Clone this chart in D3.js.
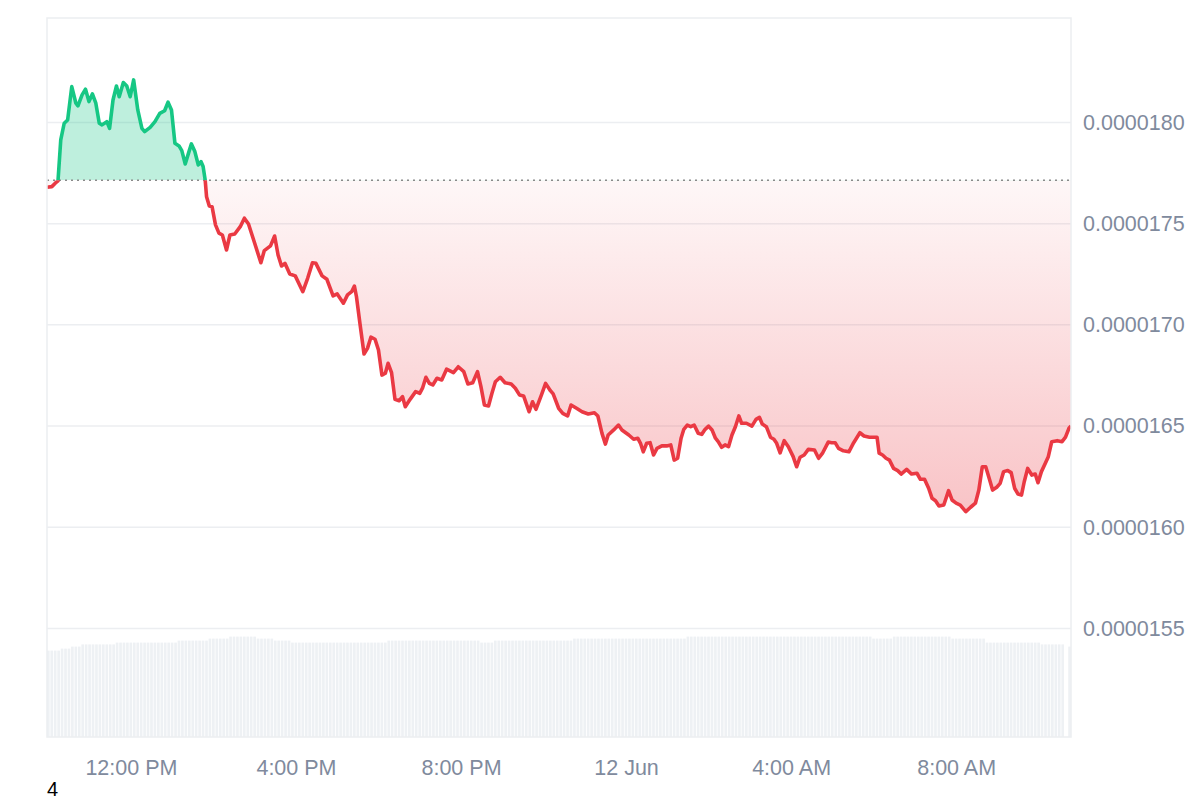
<!DOCTYPE html>
<html>
<head>
<meta charset="utf-8">
<script src="https://d3js.org/d3.v7.min.js"></script>
<style>
  body { margin: 0; background: #fff; }
  svg { display: block; }
  text { font-family: "Liberation Sans", Arial, sans-serif; }
</style>
</head>
<body>
<div id="chart"></div>
<script>

// minutes after 00:00 on 11 Jun
var times = [598,605,610,614,618,623,628,634,640,643,649,654,659,664,669,674,678,685,689,694,699,703,709,714,719,724,730,736,740,748,755,762,769,774,779,784,790,794,799,804,808,813,818,822,825,828,830,834,838,843,848,853,859,864,871,879,885,891,900,909,914,923,929,934,939,944,951,959,970,977,984,989,998,1005,1014,1020,1029,1035,1041,1045,1048,1053,1059,1064,1069,1075,1080,1085,1090,1094,1099,1104,1110,1115,1119,1126,1134,1140,1144,1149,1154,1159,1165,1172,1179,1189,1196,1204,1210,1217,1224,1229,1234,1240,1245,1250,1257,1264,1273,1279,1285,1291,1299,1304,1309,1317,1323,1330,1334,1342,1348,1355,1360,1368,1376,1385,1394,1399,1405,1410,1414,1422,1429,1434,1444,1451,1457,1461,1465,1470,1475,1480,1485,1492,1499,1505,1510,1515,1520,1524,1529,1534,1539,1545,1550,1555,1560,1565,1570,1574,1579,1584,1589,1594,1599,1604,1608,1615,1623,1629,1634,1638,1644,1650,1655,1659,1664,1670,1676,1683,1688,1693,1699,1705,1714,1720,1726,1734,1739,1744,1749,1756,1764,1771,1780,1786,1794,1805,1808,1813,1818,1823,1829,1835,1840,1848,1855,1863,1868,1874,1880,1885,1890,1895,1902,1909,1914,1920,1926,1934,1941,1948,1953,1958,1963,1968,1973,1979,1984,1989,1995,2000,2005,2010,2015,2019,2024,2030,2035,2039,2044,2050,2054,2059,2067,2074,2079,2084,2087];

// price in units of 1e-7
var prices = [176.80,176.83,177.00,177.11,179.14,179.96,180.12,181.77,180.95,180.82,181.36,181.64,181.03,181.41,180.95,179.96,179.88,180.04,179.71,181.11,181.80,181.27,181.97,181.80,181.27,182.10,180.62,179.71,179.55,179.76,180.04,180.45,180.58,181.00,180.62,178.97,178.84,178.61,177.95,178.51,178.94,178.56,177.90,178.06,177.82,177.16,176.33,175.87,175.84,174.94,174.53,174.44,173.70,174.44,174.49,174.85,175.27,174.98,174.03,173.07,173.67,173.90,174.39,173.45,172.91,173.04,172.51,172.42,171.64,172.30,173.07,173.04,172.42,172.25,171.43,171.53,171.07,171.48,171.64,171.92,171.39,170.08,168.56,168.84,169.39,169.29,168.76,167.52,167.61,168.10,167.64,166.32,166.25,166.45,165.96,166.32,166.70,166.62,166.87,167.41,167.11,167.03,167.36,167.28,167.81,167.64,167.93,167.69,167.08,167.14,167.69,166.95,166.04,165.99,166.62,167.19,167.41,167.14,167.08,166.87,166.54,166.49,165.71,166.20,165.83,166.54,167.11,166.75,166.59,165.88,165.63,165.50,166.04,165.88,165.71,165.60,165.66,165.50,164.64,164.11,164.56,164.81,165.05,164.81,164.56,164.35,164.40,164.15,163.73,164.15,164.18,163.57,163.90,164.02,164.02,164.07,163.32,163.41,164.40,164.84,165.05,164.97,165.05,164.64,164.59,164.84,165.00,164.81,164.40,164.23,163.95,164.07,163.98,164.56,164.97,165.50,165.14,165.14,165.00,165.33,165.43,165.10,164.97,164.45,164.35,164.15,163.68,164.28,163.98,163.49,162.99,163.46,163.57,163.85,163.82,163.41,163.68,164.21,164.18,164.18,163.90,163.78,163.73,164.18,164.67,164.51,164.45,164.45,163.66,163.57,163.41,163.32,162.91,162.80,162.63,162.86,162.63,162.67,162.37,162.37,161.93,161.43,161.31,161.05,161.10,161.81,161.35,161.19,161.10,160.77,160.99,161.19,161.84,162.99,162.99,162.42,161.84,161.98,162.17,162.75,162.80,162.70,161.93,161.64,161.59,162.25,162.91,162.58,162.63,162.20,162.75,163.19,163.49,164.23,164.28,164.23,164.45,164.89,165.00];

var priceUnit = 1e-7;
var refPrice = 177.14;   // opening reference (dotted line)
var priceTicks = [155, 160, 165, 170, 175, 180];

// 5 minute volume bars, run-length: [volume, number of bars]
var volumeRuns = [[432,4],[442,3],[452,3],[463,10],[472,18],[482,9],[492,6],[502,8],[492,5],[482,5],[472,28],[482,27],[472,4],[482,23],[492,33],[502,54],[492,6],[502,17],[492,10],[472,16],[463,7],[0,1],[452,1]];
var barMinutes = 5;

var cfg = {
  width: 1200,
  height: 800,
  left: 47,
  right: 1071,
  top: 18,
  bottom: 737
};

function toDate(m) { return new Date(2024, 5, 11, 0, m); }

var data = times.map(function(t, i) { return { date: toDate(t), value: prices[i] * priceUnit }; });

var volumes = [];
volumeRuns.forEach(function(r) {
  for (var k = 0; k < r[1]; k++) volumes.push(r[0]);
});

var svg = d3.select("#chart").append("svg")
  .attr("width", cfg.width)
  .attr("height", cfg.height);

var x = d3.scaleTime()
  .domain([toDate(times[0]), toDate(times[times.length - 1])])
  .range([cfg.left, cfg.right]);

var y = d3.scaleLinear()
  .domain([149.64 * priceUnit, 185.16 * priceUnit])
  .range([cfg.bottom, cfg.top]);

var yVol = d3.scaleLinear()
  .domain([0, 500])
  .range([cfg.bottom, cfg.bottom - 100]);

var baseY = y(refPrice * priceUnit);

// gridlines
svg.append("g").selectAll("line")
  .data(priceTicks)
  .enter().append("line")
  .attr("x1", cfg.left)
  .attr("x2", cfg.right)
  .attr("y1", function(d) { return y(d * priceUnit); })
  .attr("y2", function(d) { return y(d * priceUnit); })
  .style("stroke", "#eceef1")
  .style("stroke-width", 1.5);

// volume bars
svg.append("g").selectAll("rect")
  .data(volumes)
  .enter().append("rect")
  .attr("x", function(d, i) { return x(toDate(times[0] + i * barMinutes)); })
  .attr("width", function(d, i) {
    var w = x(toDate(times[0] + (i + 1) * barMinutes)) - x(toDate(times[0] + i * barMinutes)) - 0.8;
    return Math.max(0, Math.min(w, cfg.right - x(toDate(times[0] + i * barMinutes))));
  })
  .attr("y", function(d) { return yVol(d); })
  .attr("height", function(d) { return cfg.bottom - yVol(d); })
  .style("fill", "#eef1f4");

var defs = svg.append("defs");

defs.append("clipPath").attr("id", "clipUp")
  .append("rect")
  .attr("x", cfg.left).attr("y", cfg.top)
  .attr("width", cfg.right - cfg.left).attr("height", baseY - cfg.top);

defs.append("clipPath").attr("id", "clipDown")
  .append("rect")
  .attr("x", cfg.left).attr("y", baseY)
  .attr("width", cfg.right - cfg.left).attr("height", cfg.bottom - baseY);

var redGrad = defs.append("linearGradient")
  .attr("id", "redGrad")
  .attr("gradientUnits", "userSpaceOnUse")
  .attr("x1", 0).attr("x2", 0)
  .attr("y1", baseY).attr("y2", y(d3.min(prices) * priceUnit));
redGrad.append("stop").attr("offset", 0).attr("stop-color", "#ea3943").attr("stop-opacity", 0.04);
redGrad.append("stop").attr("offset", 1).attr("stop-color", "#ea3943").attr("stop-opacity", 0.3);

var area = d3.area()
  .x(function(d) { return x(d.date); })
  .y0(baseY)
  .y1(function(d) { return y(d.value); });

var line = d3.line()
  .x(function(d) { return x(d.date); })
  .y(function(d) { return y(d.value); });

svg.append("path")
  .datum(data)
  .attr("clip-path", "url(#clipUp)")
  .attr("d", area)
  .style("fill", "#16c784")
  .style("fill-opacity", 0.28);

svg.append("path")
  .datum(data)
  .attr("clip-path", "url(#clipDown)")
  .attr("d", area)
  .style("fill", "url(#redGrad)");

// reference line
svg.append("line")
  .attr("x1", cfg.left)
  .attr("x2", cfg.right)
  .attr("y1", baseY)
  .attr("y2", baseY)
  .style("stroke", "#8a8a8a")
  .style("stroke-width", 1.5)
  .style("stroke-dasharray", "2,4");

svg.append("path")
  .datum(data)
  .attr("clip-path", "url(#clipUp)")
  .attr("d", line)
  .style("fill", "none")
  .style("stroke", "#16c784")
  .style("stroke-width", 3.6)
  .style("stroke-linejoin", "round");

svg.append("path")
  .datum(data)
  .attr("clip-path", "url(#clipDown)")
  .attr("d", line)
  .style("fill", "none")
  .style("stroke", "#ea3943")
  .style("stroke-width", 3.6)
  .style("stroke-linejoin", "round");

// frame
svg.append("rect")
  .attr("x", cfg.left)
  .attr("y", cfg.top)
  .attr("width", cfg.right - cfg.left)
  .attr("height", cfg.bottom - cfg.top)
  .style("fill", "none")
  .style("stroke", "#eceef1")
  .style("stroke-width", 1.5);

// y axis labels
var yAxis = d3.axisRight(y)
  .tickValues(priceTicks.map(function(d) { return d * priceUnit; }))
  .tickFormat(d3.format(".7f"))
  .tickSize(0)
  .tickPadding(12);

svg.append("g")
  .attr("transform", "translate(" + cfg.right + ",0)")
  .call(yAxis)
  .call(function(g) { g.select(".domain").remove(); })
  .selectAll("text")
  .style("font-family", "'Liberation Sans', Arial, sans-serif")
  .style("font-size", "21.5px")
  .style("fill", "#808a9d");

// x axis labels
var xAxis = d3.axisBottom(x)
  .ticks(d3.timeHour.every(4))
  .tickFormat(function(d) {
    return d.getHours() === 0 ? d3.timeFormat("%-d %b")(d) : d3.timeFormat("%-I:%M %p")(d);
  })
  .tickSize(0)
  .tickPadding(23);

svg.append("g")
  .attr("transform", "translate(0," + cfg.bottom + ")")
  .call(xAxis)
  .call(function(g) { g.select(".domain").remove(); })
  .selectAll("text")
  .style("font-family", "'Liberation Sans', Arial, sans-serif")
  .style("font-size", "21.5px")
  .style("fill", "#808a9d");

svg.append("text")
  .attr("x", 47)
  .attr("y", 796)
  .style("font-size", "20px")
  .style("fill", "#000")
  .text("4");

</script>
</body>
</html>
